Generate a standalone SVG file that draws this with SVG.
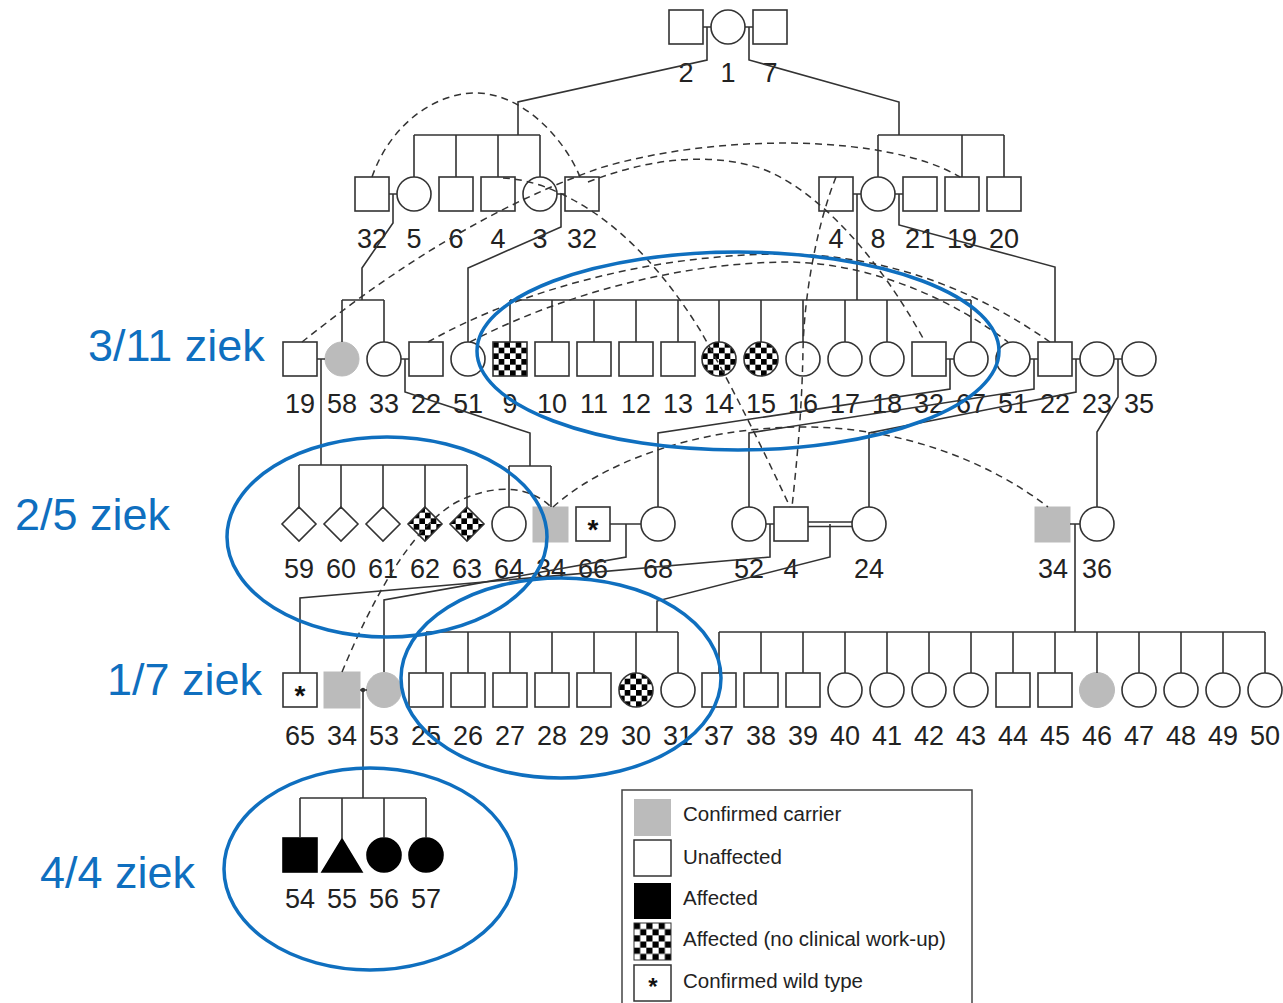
<svg xmlns="http://www.w3.org/2000/svg" width="1283" height="1003" viewBox="0 0 1283 1003">
<defs>
<pattern id="chk" patternUnits="objectBoundingBox" patternContentUnits="objectBoundingBox" width="0.3334" height="0.3334">
<rect x="0" y="0" width="0.3334" height="0.3334" fill="#fff"/>
<rect x="0" y="0" width="0.1667" height="0.1667" fill="#000"/>
<rect x="0.1667" y="0.1667" width="0.1667" height="0.1667" fill="#000"/>
</pattern>
<style>
.s{fill:#fff;stroke:#333;stroke-width:1.6}
.c{fill:url(#chk);stroke:#333;stroke-width:1.6}
.g{fill:#bbb;stroke:#bbb;stroke-width:1}
.a{fill:#000;stroke:#000;stroke-width:1.6}
.t{font-family:"Liberation Sans",Arial,sans-serif;font-size:27px;fill:#222;text-anchor:middle}
.ast{font-family:"Liberation Sans",Arial,sans-serif;font-size:28px;font-weight:bold;fill:#111;text-anchor:middle}
.ln{fill:none;stroke:#333;stroke-width:1.6}
.d{fill:none;stroke:#333;stroke-width:1.5;stroke-dasharray:7 5}
.ann{fill:none;stroke:#0F6FBF;stroke-width:3.5}
.at{font-family:"Liberation Sans",Arial,sans-serif;font-size:45px;fill:#0F6FBF}
.lt{font-family:"Liberation Sans",Arial,sans-serif;font-size:20.5px;fill:#222}
</style>
</defs>
<rect width="1283" height="1003" fill="#fff"/>

<g id="nodes">
<!-- Generation I -->
<g id="n-I-2"><rect class="s" x="669" y="10" width="34" height="34"/><text class="t" x="686" y="82">2</text></g>
<g id="n-I-1"><circle class="s" cx="728" cy="27" r="17"/><text class="t" x="728" y="82">1</text></g>
<g id="n-I-7"><rect class="s" x="753" y="10" width="34" height="34"/><text class="t" x="770" y="82">7</text></g>

<!-- Generation II -->
<g id="n-II-32a"><rect class="s" x="355" y="177" width="34" height="34"/><text class="t" x="372" y="248">32</text></g>
<g id="n-II-5"><circle class="s" cx="414" cy="194" r="17"/><text class="t" x="414" y="248">5</text></g>
<g id="n-II-6"><rect class="s" x="439" y="177" width="34" height="34"/><text class="t" x="456" y="248">6</text></g>
<g id="n-II-4a"><rect class="s" x="481" y="177" width="34" height="34"/><text class="t" x="498" y="248">4</text></g>
<g id="n-II-3"><circle class="s" cx="540" cy="194" r="17"/><text class="t" x="540" y="248">3</text></g>
<g id="n-II-32b"><rect class="s" x="565" y="177" width="34" height="34"/><text class="t" x="582" y="248">32</text></g>
<g id="n-II-4b"><rect class="s" x="819" y="177" width="34" height="34"/><text class="t" x="836" y="248">4</text></g>
<g id="n-II-8"><circle class="s" cx="878" cy="194" r="17"/><text class="t" x="878" y="248">8</text></g>
<g id="n-II-21"><rect class="s" x="903" y="177" width="34" height="34"/><text class="t" x="920" y="248">21</text></g>
<g id="n-II-19"><rect class="s" x="945" y="177" width="34" height="34"/><text class="t" x="962" y="248">19</text></g>
<g id="n-II-20"><rect class="s" x="987" y="177" width="34" height="34"/><text class="t" x="1004" y="248">20</text></g>

<!-- Generation III -->
<g id="n-III-19"><rect class="s" x="283" y="342" width="34" height="34"/><text class="t" x="300" y="413">19</text></g>
<g id="n-III-58"><circle class="g" cx="342" cy="359" r="17"/><text class="t" x="342" y="413">58</text></g>
<g id="n-III-33"><circle class="s" cx="384" cy="359" r="17"/><text class="t" x="384" y="413">33</text></g>
<g id="n-III-22a"><rect class="s" x="409" y="342" width="34" height="34"/><text class="t" x="426" y="413">22</text></g>
<g id="n-III-51a"><circle class="s" cx="468" cy="359" r="17"/><text class="t" x="468" y="413">51</text></g>
<g id="n-III-9"><rect class="c" x="493" y="342" width="34" height="34"/><text class="t" x="510" y="413">9</text></g>
<g id="n-III-10"><rect class="s" x="535" y="342" width="34" height="34"/><text class="t" x="552" y="413">10</text></g>
<g id="n-III-11"><rect class="s" x="577" y="342" width="34" height="34"/><text class="t" x="594" y="413">11</text></g>
<g id="n-III-12"><rect class="s" x="619" y="342" width="34" height="34"/><text class="t" x="636" y="413">12</text></g>
<g id="n-III-13"><rect class="s" x="661" y="342" width="34" height="34"/><text class="t" x="678" y="413">13</text></g>
<g id="n-III-14"><circle class="c" cx="719" cy="359" r="17"/><text class="t" x="719" y="413">14</text></g>
<g id="n-III-15"><circle class="c" cx="761" cy="359" r="17"/><text class="t" x="761" y="413">15</text></g>
<g id="n-III-16"><circle class="s" cx="803" cy="359" r="17"/><text class="t" x="803" y="413">16</text></g>
<g id="n-III-17"><circle class="s" cx="845" cy="359" r="17"/><text class="t" x="845" y="413">17</text></g>
<g id="n-III-18"><circle class="s" cx="887" cy="359" r="17"/><text class="t" x="887" y="413">18</text></g>
<g id="n-III-32"><rect class="s" x="912" y="342" width="34" height="34"/><text class="t" x="929" y="413">32</text></g>
<g id="n-III-67"><circle class="s" cx="971" cy="359" r="17"/><text class="t" x="971" y="413">67</text></g>
<g id="n-III-51b"><circle class="s" cx="1013" cy="359" r="17"/><text class="t" x="1013" y="413">51</text></g>
<g id="n-III-22b"><rect class="s" x="1038" y="342" width="34" height="34"/><text class="t" x="1055" y="413">22</text></g>
<g id="n-III-23"><circle class="s" cx="1097" cy="359" r="17"/><text class="t" x="1097" y="413">23</text></g>
<g id="n-III-35"><circle class="s" cx="1139" cy="359" r="17"/><text class="t" x="1139" y="413">35</text></g>

<!-- Generation IV -->
<g id="n-IV-59"><polygon class="s" points="299,507 316,524 299,541 282,524"/><text class="t" x="299" y="578">59</text></g>
<g id="n-IV-60"><polygon class="s" points="341,507 358,524 341,541 324,524"/><text class="t" x="341" y="578">60</text></g>
<g id="n-IV-61"><polygon class="s" points="383,507 400,524 383,541 366,524"/><text class="t" x="383" y="578">61</text></g>
<g id="n-IV-62"><polygon class="c" points="425,507 442,524 425,541 408,524"/><text class="t" x="425" y="578">62</text></g>
<g id="n-IV-63"><polygon class="c" points="467,507 484,524 467,541 450,524"/><text class="t" x="467" y="578">63</text></g>
<g id="n-IV-64"><circle class="s" cx="509" cy="524" r="17"/><text class="t" x="509" y="578">64</text></g>
<g id="n-IV-34a"><rect class="g" x="533" y="507" width="35" height="35"/><text class="t" x="551" y="578">34</text></g>
<g id="n-IV-66"><rect class="s" x="576" y="507" width="34" height="34"/><text class="ast" x="593" y="539">*</text><text class="t" x="593" y="578">66</text></g>
<g id="n-IV-68"><circle class="s" cx="658" cy="524" r="17"/><text class="t" x="658" y="578">68</text></g>
<g id="n-IV-52"><circle class="s" cx="749" cy="524" r="17"/><text class="t" x="749" y="578">52</text></g>
<g id="n-IV-4"><rect class="s" x="774" y="507" width="34" height="34"/><text class="t" x="791" y="578">4</text></g>
<g id="n-IV-24"><circle class="s" cx="869" cy="524" r="17"/><text class="t" x="869" y="578">24</text></g>
<g id="n-IV-34b"><rect class="g" x="1035" y="507" width="35" height="35"/><text class="t" x="1053" y="578">34</text></g>
<g id="n-IV-36"><circle class="s" cx="1097" cy="524" r="17"/><text class="t" x="1097" y="578">36</text></g>

<!-- Generation V -->
<g id="n-V-65"><rect class="s" x="283" y="673" width="34" height="34"/><text class="ast" x="300" y="705">*</text><text class="t" x="300" y="745">65</text></g>
<g id="n-V-34"><rect class="g" x="324" y="672" width="36" height="36"/><text class="t" x="342" y="745">34</text></g>
<g id="n-V-53"><circle class="g" cx="384" cy="690" r="17.5"/><text class="t" x="384" y="745">53</text></g>
<g id="n-V-25"><rect class="s" x="409" y="673" width="34" height="34"/><text class="t" x="426" y="745">25</text></g>
<g id="n-V-26"><rect class="s" x="451" y="673" width="34" height="34"/><text class="t" x="468" y="745">26</text></g>
<g id="n-V-27"><rect class="s" x="493" y="673" width="34" height="34"/><text class="t" x="510" y="745">27</text></g>
<g id="n-V-28"><rect class="s" x="535" y="673" width="34" height="34"/><text class="t" x="552" y="745">28</text></g>
<g id="n-V-29"><rect class="s" x="577" y="673" width="34" height="34"/><text class="t" x="594" y="745">29</text></g>
<g id="n-V-30"><circle class="c" cx="636" cy="690" r="17"/><text class="t" x="636" y="745">30</text></g>
<g id="n-V-31"><circle class="s" cx="678" cy="690" r="17"/><text class="t" x="678" y="745">31</text></g>
<g id="n-V-37"><rect class="s" x="702" y="673" width="34" height="34"/><text class="t" x="719" y="745">37</text></g>
<g id="n-V-38"><rect class="s" x="744" y="673" width="34" height="34"/><text class="t" x="761" y="745">38</text></g>
<g id="n-V-39"><rect class="s" x="786" y="673" width="34" height="34"/><text class="t" x="803" y="745">39</text></g>
<g id="n-V-40"><circle class="s" cx="845" cy="690" r="17"/><text class="t" x="845" y="745">40</text></g>
<g id="n-V-41"><circle class="s" cx="887" cy="690" r="17"/><text class="t" x="887" y="745">41</text></g>
<g id="n-V-42"><circle class="s" cx="929" cy="690" r="17"/><text class="t" x="929" y="745">42</text></g>
<g id="n-V-43"><circle class="s" cx="971" cy="690" r="17"/><text class="t" x="971" y="745">43</text></g>
<g id="n-V-44"><rect class="s" x="996" y="673" width="34" height="34"/><text class="t" x="1013" y="745">44</text></g>
<g id="n-V-45"><rect class="s" x="1038" y="673" width="34" height="34"/><text class="t" x="1055" y="745">45</text></g>
<g id="n-V-46"><circle class="g" cx="1097" cy="690" r="17.5"/><text class="t" x="1097" y="745">46</text></g>
<g id="n-V-47"><circle class="s" cx="1139" cy="690" r="17"/><text class="t" x="1139" y="745">47</text></g>
<g id="n-V-48"><circle class="s" cx="1181" cy="690" r="17"/><text class="t" x="1181" y="745">48</text></g>
<g id="n-V-49"><circle class="s" cx="1223" cy="690" r="17"/><text class="t" x="1223" y="745">49</text></g>
<g id="n-V-50"><circle class="s" cx="1265" cy="690" r="17"/><text class="t" x="1265" y="745">50</text></g>

<!-- Generation VI -->
<g id="n-VI-54"><rect class="a" x="283" y="838" width="34" height="34"/><text class="t" x="300" y="908">54</text></g>
<g id="n-VI-55"><polygon class="a" points="342,839 362,872 322,872"/><text class="t" x="342" y="908">55</text></g>
<g id="n-VI-56"><circle class="a" cx="384" cy="855" r="17"/><text class="t" x="384" y="908">56</text></g>
<g id="n-VI-57"><circle class="a" cx="426" cy="855" r="17"/><text class="t" x="426" y="908">57</text></g>
</g>

<g id="connectors">
<!-- generation I -->
<path class="ln" d="M703,27H711M745,27H753"/>
<path class="ln" d="M707,27V60L518,102V135M414,135H540M414,135V177M456,135V177M498,135V177M540,135V177"/>
<path class="ln" d="M749,27V60L899,102V135M878,135H1004M878,135V177M962,135V177M1004,135V177"/>
<!-- generation II -->
<path class="ln" d="M389,194H397M557,194H565M853,194H861M895,194H903"/>
<path class="ln" d="M393,194V223L362,268V300M342,300H384M342,300V342M384,300V342"/>
<path class="ln" d="M561,194V227L468,268V342"/>
<path class="ln" d="M857,194V300M510,300H971M510,300V342M552,300V342M594,300V342M636,300V342M678,300V342M719,300V342M761,300V342M803,300V342M845,300V342M887,300V342M971,300V342"/>
<path class="ln" d="M899,194V225L1055,267V342"/>
<!-- generation III -->
<path class="ln" d="M317,359H325M401,359H409M946,359H954M1030,359H1038M1072,359H1080M1114,359H1122"/>
<path class="ln" d="M321,359V465M299,465H467M299,465V507M341,465V507M383,465V507M425,465V507M467,465V507"/>
<path class="ln" d="M405,359V392L530,433V466M509,466H551M509,466V507M551,466V507"/>
<path class="ln" d="M950,359V389L658,433V507"/>
<path class="ln" d="M1034,359V389L749,433V507"/>
<path class="ln" d="M1076,359V392L869,433V507"/>
<path class="ln" d="M1118,359V397L1097,432V507"/>
<!-- generation IV -->
<path class="ln" d="M610,524H641M626,524V557L384,600V672"/>
<path class="ln" d="M766,524H774M770,524V557L300,598V673"/>
<path class="ln" d="M808,522H852M808,526.5H852"/>
<path class="ln" d="M830,524V557L657,601V632M426,632H678M426,632V673M468,632V673M510,632V673M552,632V673M594,632V673M636,632V673M678,632V673"/>
<path class="ln" d="M1070,524H1080M1075,524V632M719,632H1265M719,632V673M761,632V673M803,632V673M845,632V673M887,632V673M929,632V673M971,632V673M1013,632V673M1055,632V673M1097,632V673M1139,632V673M1181,632V673M1223,632V673M1265,632V673"/>
<!-- generation V -->
<path class="ln" d="M360,690H367M363,690V798M300,798H426M300,798V838M342,798V839M384,798V838M426,798V838"/>
<circle cx="363" cy="690" r="2.2" fill="#333"/>
<!-- duplicate-individual links -->
<path class="d" d="M372,177C390,125 435,92 478,93C525,95 565,140 580,177"/>
<path class="d" d="M503,178Q545,180 593,212Q650,250 700,330Q740,400 790,507"/>
<path class="d" d="M836,177C815,230 804,300 803,350C802,410 797,460 792,507"/>
<path class="d" d="M588,182C640,162 700,150 760,168C820,190 880,260 924,340"/>
<path class="d" d="M302,342C380,280 480,210 600,168C720,132 890,135 960,177"/>
<path class="d" d="M428,342C520,290 650,255 780,254C900,254 990,300 1050,342"/>
<path class="d" d="M470,342C560,295 680,262 790,262C880,264 960,305 1008,342"/>
<path class="d" d="M553,507C600,465 690,428 800,427C900,426 990,462 1048,507"/>
<path class="d" d="M342,672C372,600 410,530 455,503C495,482 530,487 550,506"/>
</g>

<g id="annotations">
<ellipse class="ann" cx="738" cy="351" rx="261" ry="99"/>
<ellipse class="ann" cx="387" cy="537" rx="160" ry="100"/>
<ellipse class="ann" cx="561" cy="678" rx="160" ry="100"/>
<ellipse class="ann" cx="370" cy="869" rx="146" ry="101"/>
<text class="at" x="88" y="361">3/11 ziek</text>
<text class="at" x="15" y="530">2/5 ziek</text>
<text class="at" x="107" y="695">1/7 ziek</text>
<text class="at" x="40" y="888">4/4 ziek</text>
</g>

<g id="legend">
<rect x="622" y="790" width="350" height="240" fill="#fff" stroke="#444" stroke-width="1.5"/>
<rect x="634" y="799" width="37" height="37" fill="#bbb"/>
<text class="lt" x="683" y="821">Confirmed carrier</text>
<rect x="634" y="840" width="37" height="36" fill="#fff" stroke="#333" stroke-width="1.5"/>
<text class="lt" x="683" y="864">Unaffected</text>
<rect x="634" y="883" width="37" height="36" fill="#000"/>
<text class="lt" x="683" y="905">Affected</text>
<rect x="634" y="923" width="37" height="37" fill="url(#chk)" stroke="#333" stroke-width="1"/>
<text class="lt" x="683" y="946">Affected (no clinical work-up)</text>
<rect x="634" y="965" width="37" height="36" fill="#fff" stroke="#333" stroke-width="1.5"/>
<text class="ast" x="653" y="995" style="font-size:24px">*</text>
<text class="lt" x="683" y="988">Confirmed wild type</text>
</g>
</svg>
